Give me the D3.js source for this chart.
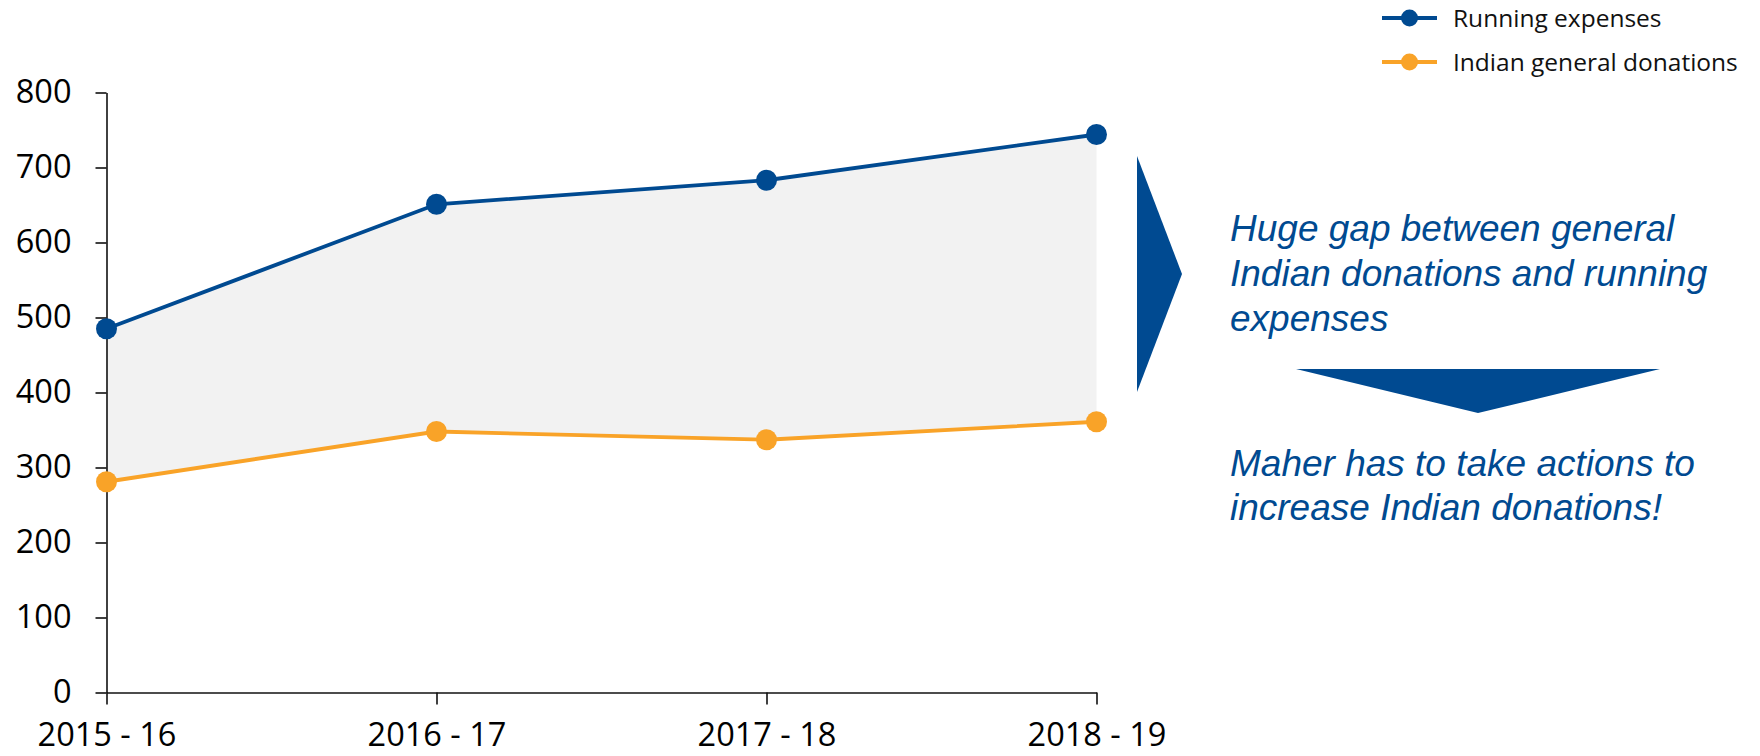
<!DOCTYPE html>
<html>
<head>
<meta charset="utf-8">
<script src="https://cdn.jsdelivr.net/npm/d3@7"></script>
<style>
  body { margin: 0; background: #fff; }
  svg { display: block; }
</style>
</head>
<body>
<div id="root"></div>
<script>
const years = ['2015 - 16', '2016 - 17', '2017 - 18', '2018 - 19'];
const runningExpenses = [485, 651, 683, 744];
const indianDonations = [281, 348, 337, 361];
const seriesNames = ['Running expenses', 'Indian general donations'];
const yTicks = [0, 100, 200, 300, 400, 500, 600, 700, 800];
const notesTop = ['Huge gap between general', 'Indian donations and running', 'expenses'];
const notesBottom = ['Maher has to take actions to', 'increase Indian donations!'];

const width = 1760;
const height = 756;
const blue = '#004a91';
const orange = '#f9a328';
const axisFont = '"Open Sans", sans-serif';

const svg = d3.select('#root')
    .append('svg')
    .attr('width', width)
    .attr('height', height);

// Scales
const x = d3.scalePoint()
    .domain(years)
    .range([106.5, 1096.5]);
const y = d3.scaleLinear()
    .domain([0, 800])
    .range([692.5, 92.5]);

const rows = years.map((yr, i) => ({ year: yr, run: runningExpenses[i], don: indianDonations[i] }));

// Gap between the two series
const area = d3.area()
    .x(d => x(d.year))
    .y0(d => y(d.don))
    .y1(d => y(d.run));
svg.append('path')
    .datum(rows)
    .attr('d', area)
    .attr('fill', '#f2f2f2');

// Axes
const yAxis = d3.axisLeft(y).tickValues(yTicks).tickSize(11).tickSizeOuter(0).tickPadding(24);
const gy = svg.append('g')
    .attr('transform', `translate(${x(years[0])},0)`)
    .call(yAxis);

const xAxis = d3.axisBottom(x).tickSize(12).tickSizeOuter(0);
const gx = svg.append('g')
    .attr('transform', `translate(0,${y(0)})`)
    .call(xAxis);

[gx, gy].forEach(g => {
    g.selectAll('path, line').attr('stroke', '#111').attr('stroke-width', 1.6);
    g.selectAll('text')
        .attr('fill', '#000')
        .style('font-family', axisFont)
        .style('font-size', '32.5px');
});
gx.selectAll('text').attr('y', 53).attr('dy', null);

// Lines and markers
const series = [
    { name: seriesNames[0], color: blue, values: runningExpenses },
    { name: seriesNames[1], color: orange, values: indianDonations }
];
const line = d3.line()
    .x((d, i) => x(years[i]))
    .y(d => y(d));

series.forEach(s => {
    svg.append('path')
        .datum(s.values)
        .attr('d', line)
        .attr('fill', 'none')
        .attr('stroke', s.color)
        .attr('stroke-width', 3.8);
    svg.selectAll(null)
        .data(s.values)
        .enter()
        .append('circle')
        .attr('cx', (d, i) => x(years[i]))
        .attr('cy', d => y(d))
        .attr('r', 10.5)
        .attr('fill', s.color);
});

// Legend
const legend = svg.selectAll('.legend')
    .data(series)
    .enter().append('g')
    .attr('class', 'legend')
    .attr('transform', (d, i) => `translate(1382,${18 + i * 44})`);
legend.append('line')
    .attr('x1', 0).attr('x2', 55)
    .attr('stroke', d => d.color)
    .attr('stroke-width', 3.8);
legend.append('circle')
    .attr('cx', 27.5)
    .attr('r', 8.5)
    .attr('fill', d => d.color);
legend.append('text')
    .attr('x', 71)
    .attr('dy', '0.35em')
    .style('font-family', axisFont)
    .style('font-size', '24.5px')
    .attr('fill', '#111')
    .text(d => d.name);

// Arrows
svg.append('path')
    .attr('d', 'M1137,156 L1182,274 L1137,392 Z')
    .attr('fill', blue);
svg.append('path')
    .attr('d', 'M1296,369 L1660,369 L1478,413 Z')
    .attr('fill', blue);

// Notes
const noteStyle = sel => sel
    .attr('x', 1230)
    .attr('fill', blue)
    .style('font-family', '"Liberation Sans", Arial, sans-serif')
    .style('font-style', 'italic')
    .style('font-size', '37px');

svg.selectAll('.note-top')
    .data(notesTop)
    .enter().append('text')
    .attr('class', 'note-top')
    .call(noteStyle)
    .attr('y', (d, i) => 240.5 + i * 45)
    .text(d => d);

svg.selectAll('.note-bottom')
    .data(notesBottom)
    .enter().append('text')
    .attr('class', 'note-bottom')
    .call(noteStyle)
    .attr('y', (d, i) => 475.5 + i * 44.5)
    .text(d => d);
</script>
</body>
</html>
